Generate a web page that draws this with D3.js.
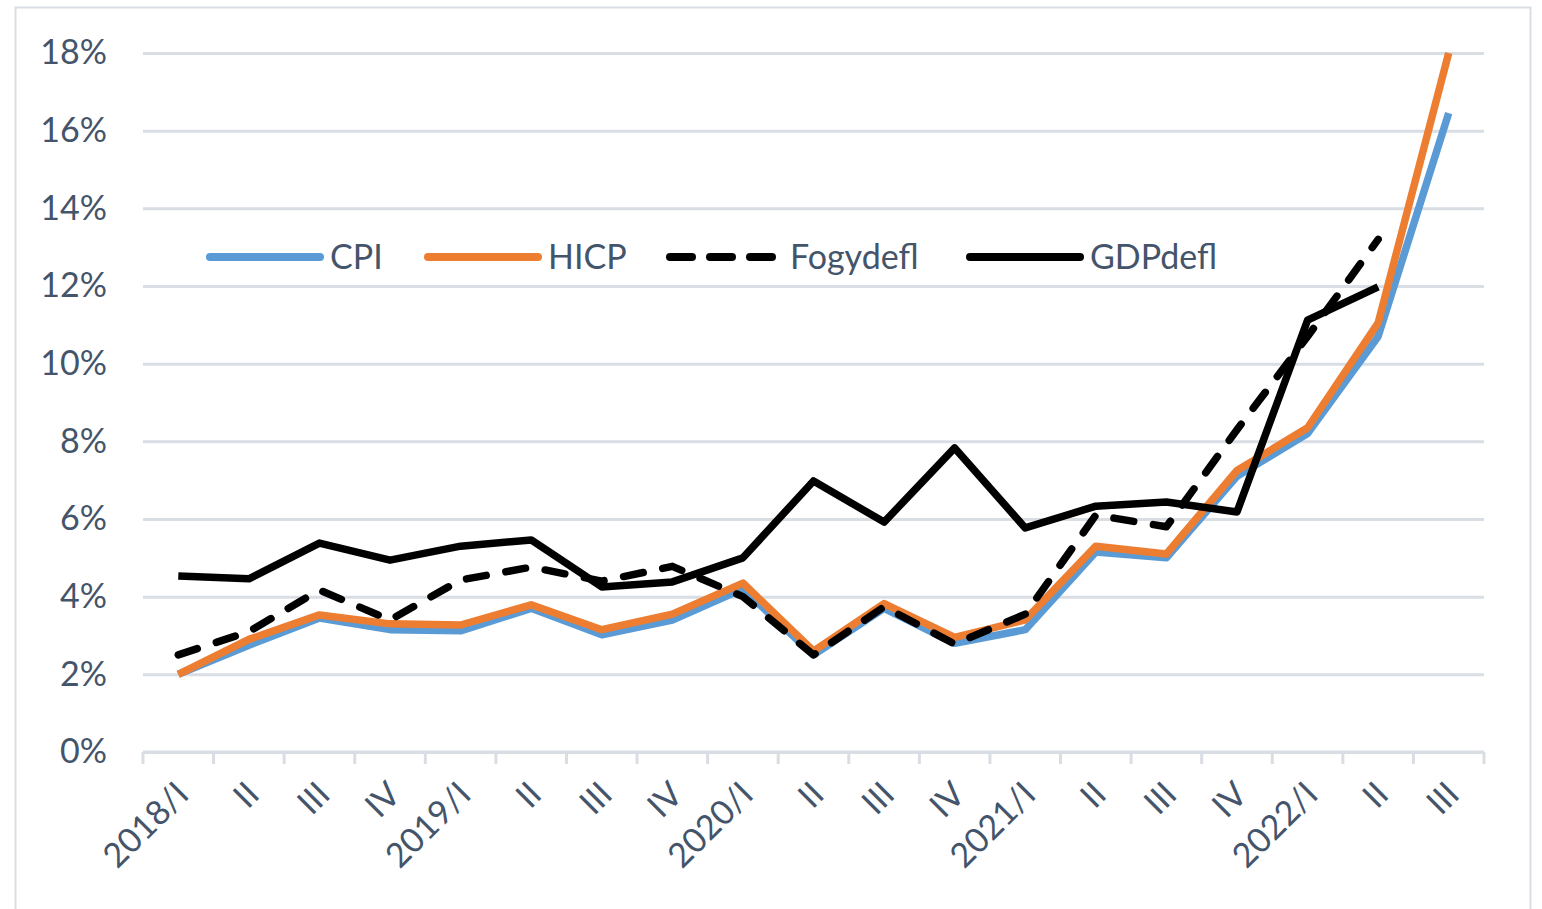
<!DOCTYPE html>
<html>
<head>
<meta charset="utf-8">
<script src="https://cdn.jsdelivr.net/npm/d3@7"></script>
<style>
  body { margin: 0; background: #fff; }
  svg { display: block; font-family: Lato, "Open Sans", sans-serif; }
</style>
</head>
<body>
<svg></svg>
<script>
// Negyedévek
const quarters = ["2018/I", "II", "III", "IV", "2019/I", "II", "III", "IV",
    "2020/I", "II", "III", "IV", "2021/I", "II", "III", "IV", "2022/I", "II", "III"];

// Sorok (%)
const cpi = [2.0, 2.75, 3.45, 3.15, 3.12, 3.7, 3.02, 3.4, 4.2, 2.5, 3.7, 2.8, 3.15, 5.15, 5.0, 7.1, 8.2, 10.7, 16.45];
const hicp = [2.0, 2.9, 3.53, 3.3, 3.27, 3.79, 3.15, 3.55, 4.35, 2.6, 3.82, 2.95, 3.4, 5.3, 5.1, 7.25, 8.35, 11.05, 18.0];
const fogydefl = [2.5, 3.1, 4.17, 3.4, 4.43, 4.76, 4.4, 4.78, 4.0, 2.5, 3.74, 2.78, 3.55, 6.1, 5.8, 8.3, 10.7, 13.2, null];
const gdpdefl = [4.53, 4.46, 5.38, 4.94, 5.3, 5.46, 4.25, 4.38, 5.0, 6.98, 5.92, 7.83, 5.77, 6.33, 6.44, 6.18, 11.12, 11.98, null];

const yTicks = [0, 2, 4, 6, 8, 10, 12, 14, 16, 18];

const width = 1542, height = 909;
const margin = { top: 53, right: 58, bottom: 157, left: 143 };
const textColor = "#44546A";
const gridColor = "#D9DDE4";
const fontSize = "34px";

const svg = d3.select("svg")
    .attr("width", width)
    .attr("height", height);

// keret
svg.append("rect")
    .attr("x", 15.5)
    .attr("y", 7.5)
    .attr("width", 1515)
    .attr("height", 920)
    .attr("fill", "none")
    .attr("stroke", gridColor)
    .attr("stroke-width", 2);

const x = d3.scaleBand()
    .domain(d3.range(quarters.length))
    .range([margin.left, width - margin.right])
    .padding(0);

const y = d3.scaleLinear()
    .domain([0, 18])
    .range([height - margin.bottom, margin.top]);

const cx = i => x(i) + x.bandwidth() / 2;

// rácsvonalak
svg.append("g")
    .attr("transform", `translate(${margin.left},0)`)
    .call(d3.axisLeft(y)
        .tickValues(yTicks)
        .tickSize(-(width - margin.left - margin.right))
        .tickFormat(d => d + "%"))
    .call(g => g.select(".domain").remove())
    .call(g => g.selectAll(".tick line")
        .attr("stroke", gridColor)
        .attr("stroke-width", 3))
    .call(g => g.selectAll(".tick text")
        .attr("x", -36)
        .attr("fill", textColor)
        .style("font-size", fontSize)
        .style("font-family", "Lato, sans-serif"));

// X tengely
const y0 = y(0);
svg.append("line")
    .attr("x1", margin.left)
    .attr("x2", width - margin.right)
    .attr("y1", y0)
    .attr("y2", y0)
    .attr("stroke", gridColor)
    .attr("stroke-width", 3);

svg.append("g")
    .selectAll("line")
    .data(d3.range(quarters.length + 1))
    .enter().append("line")
    .attr("x1", i => i < quarters.length ? x(i) : x.range()[1])
    .attr("x2", i => i < quarters.length ? x(i) : x.range()[1])
    .attr("y1", y0)
    .attr("y2", y0 + 12)
    .attr("stroke", gridColor)
    .attr("stroke-width", 3);

svg.append("g")
    .selectAll("text")
    .data(quarters)
    .enter().append("text")
    .attr("transform", (d, i) => `translate(${cx(i) + 4},${y0 + 36}) rotate(-45)`)
    .attr("text-anchor", "end")
    .attr("dy", "0.35em")
    .attr("fill", textColor)
    .style("font-size", fontSize)
    .text(d => d);

// vonalak
const series = [
    { name: "CPI", values: cpi, color: "#5B9BD5", dash: null },
    { name: "HICP", values: hicp, color: "#ED7D31", dash: null },
    { name: "Fogydefl", values: fogydefl, color: "#000000", dash: "20,20" },
    { name: "GDPdefl", values: gdpdefl, color: "#000000", dash: null }
];

const line = d3.line()
    .defined(d => d.v !== null)
    .x(d => cx(d.i))
    .y(d => y(d.v));

series.forEach(s => {
    svg.append("path")
        .datum(s.values.map((v, i) => ({ i, v })))
        .attr("fill", "none")
        .attr("stroke", s.color)
        .attr("stroke-width", 7.5)
        .attr("stroke-linejoin", "round")
        .attr("stroke-linecap", s.dash ? "round" : "butt")
        .attr("stroke-dasharray", s.dash)
        .attr("d", line);
});

// jelmagyarázat
const legendX = [210, 428, 670, 970];
const legend = svg.append("g")
    .selectAll("g")
    .data(series)
    .enter().append("g")
    .attr("transform", (d, i) => `translate(${legendX[i]},257)`);

legend.append("line")
    .attr("x1", 0)
    .attr("x2", 110)
    .attr("stroke", d => d.color)
    .attr("stroke-width", 8)
    .attr("stroke-linecap", "round")
    .attr("stroke-dasharray", d => d.dash ? "22,18" : null);

legend.append("text")
    .attr("x", 120)
    .attr("dy", "0.35em")
    .attr("fill", textColor)
    .style("font-size", fontSize)
    .text(d => d.name);
</script>
</body>
</html>
